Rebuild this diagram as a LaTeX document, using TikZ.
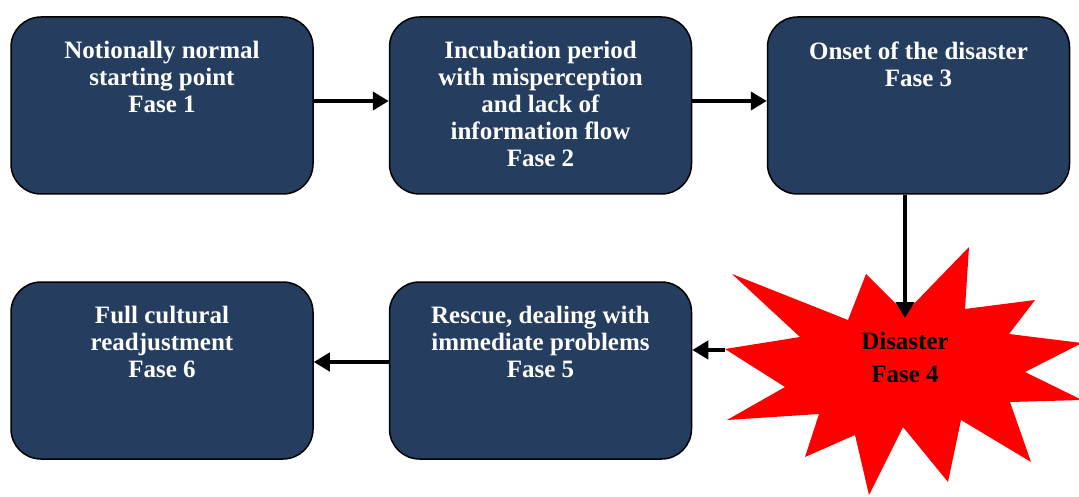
\documentclass[tikz,border=0pt]{standalone}
\usepackage{fontspec}
\setmainfont{Liberation Serif}
\usetikzlibrary{arrows.meta}
\definecolor{boxblue}{HTML}{253D5E}
\definecolor{starred}{HTML}{FF0000}
\tikzset{
  phase/.style={draw=black, line width=1.5pt, fill=boxblue, rounded corners=30pt,
    minimum width=302pt, minimum height=177pt, inner sep=0pt},
  phasetext/.style={text=white, font=\fontsize{25}{27}\selectfont\bfseries,
    align=center, anchor=north, inner sep=0pt},
  flow/.style={line width=4pt, -{Triangle[length=16pt,width=18pt]}},
}
\begin{document}
\begin{tikzpicture}[x=1pt,y=-1pt]
\useasboundingbox (0,0) rectangle (1079,497);
% phase boxes
\node[phase] (b1) at (162,105.5) {};
\node[phase] (b2) at (540.5,105.5) {};
\node[phase] (b3) at (918.5,105.5) {};
\node[phase] (b6) at (162,370.5) {};
\node[phase] (b5) at (540.5,370.5) {};
% box texts
\node[phasetext] (t1) at ([yshift=-25pt]b1.north) {Notionally normal\\starting point\\Fase 1};
\node[phasetext] (t2) at ([yshift=-25pt]b2.north) {Incubation period\\with misperception\\and lack of\\information flow\\Fase 2};
\node[phasetext] (t3) at ([yshift=-25pt]b3.north) {Onset of the disaster\\Fase 3};
\node[phasetext] (t5) at ([yshift=-25pt]b5.north) {Rescue, dealing with\\immediate problems\\Fase 5};
\node[phasetext] (t6) at ([yshift=-25pt]b6.north) {Full cultural\\readjustment\\Fase 6};
% disaster burst
\fill[starred] (725,349) -- (800,337) -- (732,274) -- (848,320) -- (866,274)
  -- (905,313) -- (969,247) -- (965,309) -- (1035,300) -- (1009,334)
  -- (1082,343) -- (1025,372) -- (1082,400) -- (1010,402) -- (1031,462)
  -- (961,420) -- (948,482) -- (903,427) -- (869,495) -- (855,435)
  -- (805,457) -- (819,414) -- (727,420) -- (785,387) -- cycle;
\node[font=\fontsize{25}{33}\selectfont\bfseries, align=center, inner sep=0pt]
  (star) at (905,357) {Disaster\\Fase 4};
\coordinate (startop) at (905,318);
\coordinate (starleft) at (725,350);
% connectors
\draw[flow] (b1.east |- 0,101) -- (b2.west |- 0,101);
\draw[flow] (b2.east |- 0,101) -- (b3.west |- 0,101);
\draw[flow] (b3.south -| startop) -- (startop);
\draw[flow] (starleft) -- (b5.east |- starleft);
\draw[flow] (b5.west |- 0,362) -- (b6.east |- 0,362);
\end{tikzpicture}
\end{document}
